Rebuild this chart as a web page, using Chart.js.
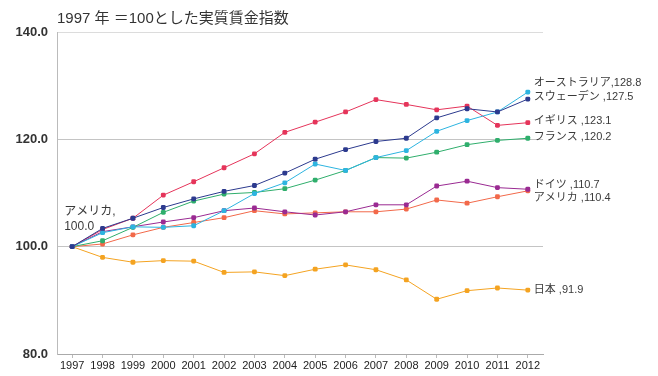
<!DOCTYPE html>
<html lang="ja">
<head>
    <meta charset="UTF-8">
    <title>実質賃金指数</title>
    <style>
        html, body {
            margin: 0;
            padding: 0;
            background: #fff;
        }
        #wrap {
            width: 658px;
            height: 376px;
            position: relative;
        }
    </style>
    <script src="https://cdn.jsdelivr.net/npm/chart.js"></script>
</head>
<body>
<div id="wrap"><canvas id="chart" width="658" height="376"></canvas></div>
<script>
    const years = ['1997', '1998', '1999', '2000', '2001', '2002', '2003', '2004',
                   '2005', '2006', '2007', '2008', '2009', '2010', '2011', '2012'];

    const sweden    = [100, 103.4, 105.3, 107.3, 108.9, 110.3, 111.4, 113.7, 116.3, 118.1, 119.6, 120.2, 124.0, 125.7, 125.1, 127.5];
    const australia = [100, 102.6, 103.7, 103.6, 103.9, 106.7, 109.9, 111.9, 115.4, 114.2, 116.6, 117.9, 121.5, 123.5, 125.1, 128.8];
    const uk        = [100, 103.2, 105.3, 109.6, 112.1, 114.7, 117.3, 121.3, 123.2, 125.1, 127.4, 126.5, 125.5, 126.2, 122.6, 123.1];
    const france    = [100, 101.1, 103.6, 106.4, 108.5, 109.8, 110.1, 110.8, 112.4, 114.2, 116.6, 116.5, 117.6, 119.0, 119.8, 120.2];
    const germany   = [100, 102.8, 103.7, 104.6, 105.4, 106.7, 107.2, 106.5, 105.9, 106.5, 107.8, 107.8, 111.3, 112.2, 111.0, 110.7];
    const usa       = [100, 100.5, 102.2, 103.6, 104.5, 105.4, 106.7, 106.1, 106.3, 106.5, 106.5, 107.0, 108.7, 108.1, 109.3, 110.4];
    const japan     = [100, 98.0, 97.1, 97.4, 97.3, 95.2, 95.3, 94.6, 95.8, 96.6, 95.7, 93.8, 90.2, 91.8, 92.3, 91.9];

    const endLabels = ['スウェーデン ,127.5', 'オーストラリア,128.8', 'イギリス ,123.1', 'フランス ,120.2',
                       'ドイツ ,110.7', 'アメリカ ,110.4', '日本 ,91.9'];
    const startLabel = ['アメリカ,', '100.0'];
    const titleText = '1997 年 ＝100とした実質賃金指数';
    const yTicks = [80, 100, 120, 140];

    const FONT = "'Liberation Sans', 'Noto Sans CJK JP', sans-serif";

    // small nudges so end labels don't sit on top of each other
    const labelShift = [-2.5, -9, -2, -1.5, -4, 7.5, 0];

    function series(label, data, color) {
        return {
            label: label,
            data: data,
            borderColor: color,
            backgroundColor: color,
            borderWidth: 1,
            pointStyle: 'rectRounded',
            pointRadius: 2.8,
            pointBorderWidth: 0,
            tension: 0
        };
    }

    const labelPlugin = {
        id: 'labelPlugin',
        afterDatasetsDraw(chart) {
            const ctx = chart.ctx;
            ctx.save();
            ctx.fillStyle = '#3a3a3a';
            ctx.textBaseline = 'middle';
            ctx.textAlign = 'left';

            // end-of-line labels
            ctx.font = '11px ' + FONT;
            chart.data.datasets.forEach((ds, i) => {
                const meta = chart.getDatasetMeta(i);
                const last = meta.data[meta.data.length - 1];
                ctx.fillText(endLabels[i], last.x + 6, last.y + labelShift[i]);
            });

            // start label
            const first = chart.getDatasetMeta(5).data[0];
            ctx.font = '12px ' + FONT;
            ctx.fillText(startLabel[0], first.x - 8, first.y - 35);
            ctx.fillText(startLabel[1], first.x - 8, first.y - 20);

            // title
            ctx.font = '15px ' + FONT;
            ctx.fillStyle = '#333';
            ctx.fillText(titleText, chart.chartArea.left, 19);
            ctx.restore();
        }
    };

    new Chart(document.getElementById('chart'), {
        type: 'line',
        data: {
            labels: years,
            datasets: [
                series('スウェーデン', sweden, '#2c3a8e'),
                series('オーストラリア', australia, '#2db4e0'),
                series('イギリス', uk, '#e5345a'),
                series('フランス', france, '#2fae6c'),
                series('ドイツ', germany, '#9a2a92'),
                series('アメリカ', usa, '#f2694a'),
                series('日本', japan, '#f4a321')
            ]
        },
        options: {
            responsive: false,
            animation: false,
            layout: {
                padding: { top: 32, right: 115, bottom: 0, left: 0 }
            },
            plugins: {
                legend: { display: false },
                tooltip: { enabled: false }
            },
            scales: {
                x: {
                    offset: true,
                    grid: {
                        offset: false,
                        drawOnChartArea: false,
                        drawTicks: true,
                        tickLength: 4,
                        color: '#bbb'
                    },
                    border: { color: '#aaa' },
                    ticks: {
                        color: '#222',
                        padding: 1,
                        maxRotation: 0,
                        autoSkip: false,
                        font: { family: FONT, size: 11 }
                    },
                    afterFit(scale) { scale.height = 22; }
                },
                y: {
                    min: 80,
                    max: 140,
                    afterBuildTicks(scale) {
                        scale.ticks = yTicks.map(v => ({ value: v }));
                    },
                    grid: {
                        drawTicks: false,
                        color: ctx => ctx.tick && ctx.tick.value === 140 ? '#dcdcdc' : '#c4c4c4'
                    },
                    border: { color: '#bbb' },
                    ticks: {
                        color: '#333',
                        padding: 9,
                        font: { family: FONT, size: 13, weight: 'bold' },
                        callback: v => Number(v).toFixed(1)
                    },
                    afterFit(scale) { scale.width = 57; }
                }
            }
        },
        plugins: [labelPlugin]
    });
</script>
</body>
</html>
